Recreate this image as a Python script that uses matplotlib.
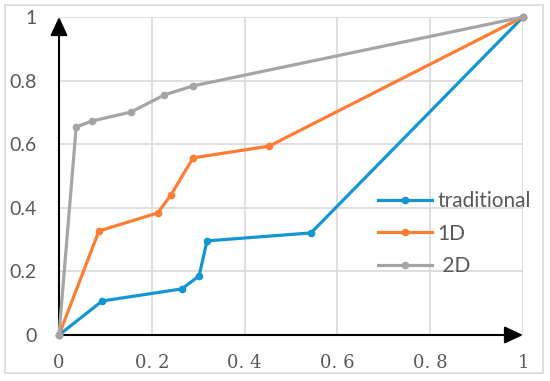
import matplotlib.pyplot as plt
from matplotlib.patches import Rectangle

# ROC-like curves
trad_x = [0, 0.093, 0.265, 0.302, 0.319, 0.543, 1]
trad_y = [0, 0.107, 0.145, 0.186, 0.296, 0.321, 1]

d1_x = [0, 0.086, 0.213, 0.241, 0.289, 0.453, 1]
d1_y = [0, 0.327, 0.384, 0.440, 0.557, 0.594, 1]

d2_x = [0, 0.037, 0.071, 0.155, 0.227, 0.288, 1]
d2_y = [0, 0.654, 0.673, 0.701, 0.755, 0.783, 1]

ticks = [0, 0.2, 0.4, 0.6, 0.8, 1]
xlabels = ["0", "0. 2", "0. 4", "0. 6", "0. 8", "1"]
ylabels = ["0", "0.2", "0.4", "0.6", "0.8", "1"]

fig = plt.figure(figsize=(5.5, 3.81), dpi=100)
ax = fig.add_axes([59 / 550, 1 - 335 / 381, 464 / 550, 318 / 381])

# light border around the whole chart
fig.patches.append(Rectangle((5 / 550, 1 - 373 / 381), 538 / 550, 368 / 381,
                             transform=fig.transFigure, fill=False,
                             edgecolor="#d9d9d9", lw=1.2))

ax.grid(True, color="#d9d9d9", lw=1.2)
ax.set_axisbelow(True)
for s in ax.spines.values():
    s.set_visible(False)

ax.plot(trad_x, trad_y, color="#1296d4", lw=2.3, marker="o", ms=4.5,
        label="traditional", clip_on=False, zorder=3)
ax.plot(d1_x, d1_y, color="#fd7e33", lw=2.3, marker="o", ms=4.5,
        label="1D", clip_on=False, zorder=4)
ax.plot(d2_x, d2_y, color="#a5a5a5", lw=2.3, marker="o", ms=4.5,
        label=" 2D", clip_on=False, zorder=5)

# axes drawn as arrows
arrow = dict(arrowstyle="-|>,head_length=0.75,head_width=0.35", color="black",
             lw=1.5, shrinkA=0, shrinkB=0, mutation_scale=15)
ax.annotate("", xy=(0, 1), xytext=(0, 0), arrowprops=arrow,
            annotation_clip=False, zorder=2)
ax.annotate("", xy=(1, 0), xytext=(0, 0), arrowprops=arrow,
            annotation_clip=False, zorder=2)

ax.set_xlim(0, 1)
ax.set_ylim(0, 1)
ax.set_xticks(ticks)
ax.set_xticklabels(xlabels, fontfamily="DejaVu Serif", fontsize=13, color="#595959")
ax.set_yticks(ticks)
ax.set_yticklabels(ylabels, fontfamily="Lato", fontsize=14, color="#595959")
ax.tick_params(length=0)
ax.tick_params(axis="x", pad=14)
ax.tick_params(axis="y", pad=16)

leg = ax.legend(loc="upper left", bbox_to_anchor=(378 / 550, 1 - 191 / 381),
                bbox_transform=fig.transFigure, frameon=False,
                prop={"family": "Lato", "size": 15}, handlelength=2.6,
                handletextpad=0.25, labelspacing=0.6, borderpad=0,
                borderaxespad=0)
for t in leg.get_texts():
    t.set_color("#595959")

fig.savefig("out.png", dpi=100)
